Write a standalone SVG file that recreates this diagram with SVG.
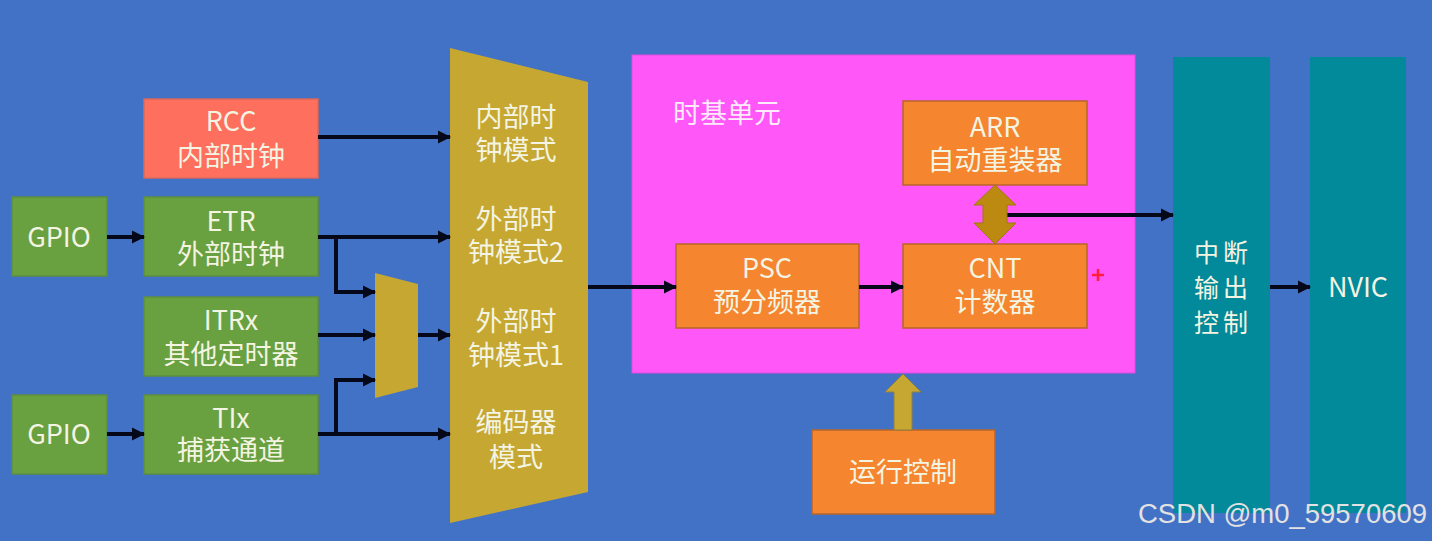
<svg xmlns="http://www.w3.org/2000/svg" width="1432" height="541" viewBox="0 0 1432 541">
  <style>
    .t { font-family: "Noto Sans CJK SC", "Liberation Sans", sans-serif; font-size: 27px; fill: #F4F4E2; text-anchor: middle; }
    .green { fill: #69A040; stroke: #5E8F3C; stroke-width: 1.5; }
    .rcc { fill: #FF6F5E; stroke: #D86A5C; stroke-width: 1.5; }
    .orange { fill: #F5852F; stroke: #B8652A; stroke-width: 1.5; }
    .gold { fill: #C5A732; }
    .teal { fill: #02899A; }
    .wire { fill: none; stroke: #050818; stroke-width: 4; }
  </style>
  <defs>
    <marker id="ah" viewBox="0 0 12 12" refX="11" refY="6" markerWidth="3.4" markerHeight="3.4" markerUnits="strokeWidth" orient="auto">
      <path d="M0,0 L12,6 L0,12 z" fill="#050818"/>
    </marker>
  </defs>

  <!-- background -->
  <rect x="0" y="0" width="1432" height="541" fill="#4272C6"/>

  <!-- clock sources -->
  <g id="rcc">
    <rect class="rcc" x="144" y="99" width="174" height="79"/>
    <text class="t" x="231" y="131">RCC</text>
    <text class="t" x="231" y="166">内部时钟</text>
  </g>
  <g id="gpio1">
    <rect class="green" x="12" y="197" width="95" height="79"/>
    <text class="t" x="59" y="247">GPIO</text>
  </g>
  <g id="etr">
    <rect class="green" x="144" y="197" width="174" height="79"/>
    <text class="t" x="231" y="231">ETR</text>
    <text class="t" x="231" y="264">外部时钟</text>
  </g>
  <g id="itrx">
    <rect class="green" x="144" y="297" width="174" height="79"/>
    <text class="t" x="231" y="330">ITRx</text>
    <text class="t" x="231" y="364">其他定时器</text>
  </g>
  <g id="gpio2">
    <rect class="green" x="12" y="395" width="95" height="79"/>
    <text class="t" x="59" y="444">GPIO</text>
  </g>
  <g id="tix">
    <rect class="green" x="144" y="395" width="174" height="79"/>
    <text class="t" x="231" y="428">TIx</text>
    <text class="t" x="231" y="460">捕获通道</text>
  </g>

  <!-- small selector -->
  <g id="mux-small">
    <polygon class="gold" points="375,273 418,284 418,387 375,398"/>
  </g>

  <!-- clock mode selector -->
  <g id="mux-mode">
    <polygon class="gold" points="450,48 588,82 588,492 450,523"/>
    <text class="t" x="516" y="127">内部时</text>
    <text class="t" x="516" y="160">钟模式</text>
    <text class="t" x="516" y="229">外部时</text>
    <text class="t" x="516" y="262">钟模式2</text>
    <text class="t" x="516" y="331">外部时</text>
    <text class="t" x="516" y="365">钟模式1</text>
    <text class="t" x="516" y="432">编码器</text>
    <text class="t" x="516" y="467">模式</text>
  </g>

  <!-- time base unit -->
  <g id="timebase">
    <rect x="632" y="55" width="503" height="318" fill="#FF57F8" stroke="#E04CE0" stroke-width="1"/>
    <text class="t" x="673" y="123" style="text-anchor:start; fill:#FDEBFB">时基单元</text>
  </g>
  <g id="arr">
    <rect class="orange" x="903" y="101" width="184" height="84"/>
    <text class="t" x="995" y="137">ARR</text>
    <text class="t" x="995" y="170">自动重装器</text>
  </g>
  <g id="psc">
    <rect class="orange" x="676" y="244" width="183" height="84"/>
    <text class="t" x="767" y="278">PSC</text>
    <text class="t" x="767" y="312">预分频器</text>
  </g>
  <g id="cnt">
    <rect class="orange" x="903" y="244" width="184" height="84"/>
    <text class="t" x="995" y="278">CNT</text>
    <text class="t" x="995" y="312">计数器</text>
  </g>
  <g id="cnt-plus">
    <path d="M1092,275 H1104 M1098,269 V281" stroke="#FF1E3C" stroke-width="2.5" fill="none"/>
  </g>

  <!-- run control -->
  <g id="run-ctrl">
    <rect class="orange" x="812" y="430" width="183" height="84"/>
    <text class="t" x="903" y="482">运行控制</text>
  </g>

  <!-- interrupt output and NVIC -->
  <g id="irq-out">
    <rect class="teal" x="1173" y="57" width="97" height="456"/>
    <text class="t" x="1223" y="262" style="font-size:25px; letter-spacing:4px">中断</text>
    <text class="t" x="1223" y="297" style="font-size:25px; letter-spacing:4px">输出</text>
    <text class="t" x="1223" y="332" style="font-size:25px; letter-spacing:4px">控制</text>
  </g>
  <g id="nvic">
    <rect class="teal" x="1310" y="57" width="96" height="456"/>
    <text class="t" x="1358" y="297">NVIC</text>
  </g>

  <!-- connectors -->
  <g id="connectors">
    <path class="wire" d="M318,137 H450" marker-end="url(#ah)"/>
    <path class="wire" d="M107,237 H144" marker-end="url(#ah)"/>
    <path class="wire" d="M318,237 H450" marker-end="url(#ah)"/>
    <path class="wire" d="M336,237 V292 H375" marker-end="url(#ah)"/>
    <path class="wire" d="M318,335 H375" marker-end="url(#ah)"/>
    <path class="wire" d="M418,335 H450" marker-end="url(#ah)"/>
    <path class="wire" d="M107,434 H144" marker-end="url(#ah)"/>
    <path class="wire" d="M318,434 H450" marker-end="url(#ah)"/>
    <path class="wire" d="M336,434 V380 H375" marker-end="url(#ah)"/>
    <path class="wire" d="M588,287 H676" marker-end="url(#ah)"/>
    <path class="wire" d="M859,287 H903" marker-end="url(#ah)"/>
    <path class="wire" d="M1005,215 H1173" marker-end="url(#ah)"/>
    <path class="wire" d="M1270,287 H1310" marker-end="url(#ah)"/>
    <!-- ARR <-> CNT transfer -->
    <polygon points="995,185 1016,205 1007,205 1007,223 1016,223 995,244 974,223 983,223 983,205 974,205" fill="#BC8A10" stroke="#A07812" stroke-width="1"/>
    <!-- run control enable -->
    <polygon points="903,374 921,392 912,392 912,430 894,430 894,392 885,392" fill="#C5A732" stroke="#8F8040" stroke-width="1"/>
  </g>

  <text x="1138" y="523" textLength="289" lengthAdjust="spacingAndGlyphs" style="font-family:'Liberation Sans', sans-serif; font-size:27px; fill:#E2E2E2">CSDN @m0_59570609</text>
</svg>
